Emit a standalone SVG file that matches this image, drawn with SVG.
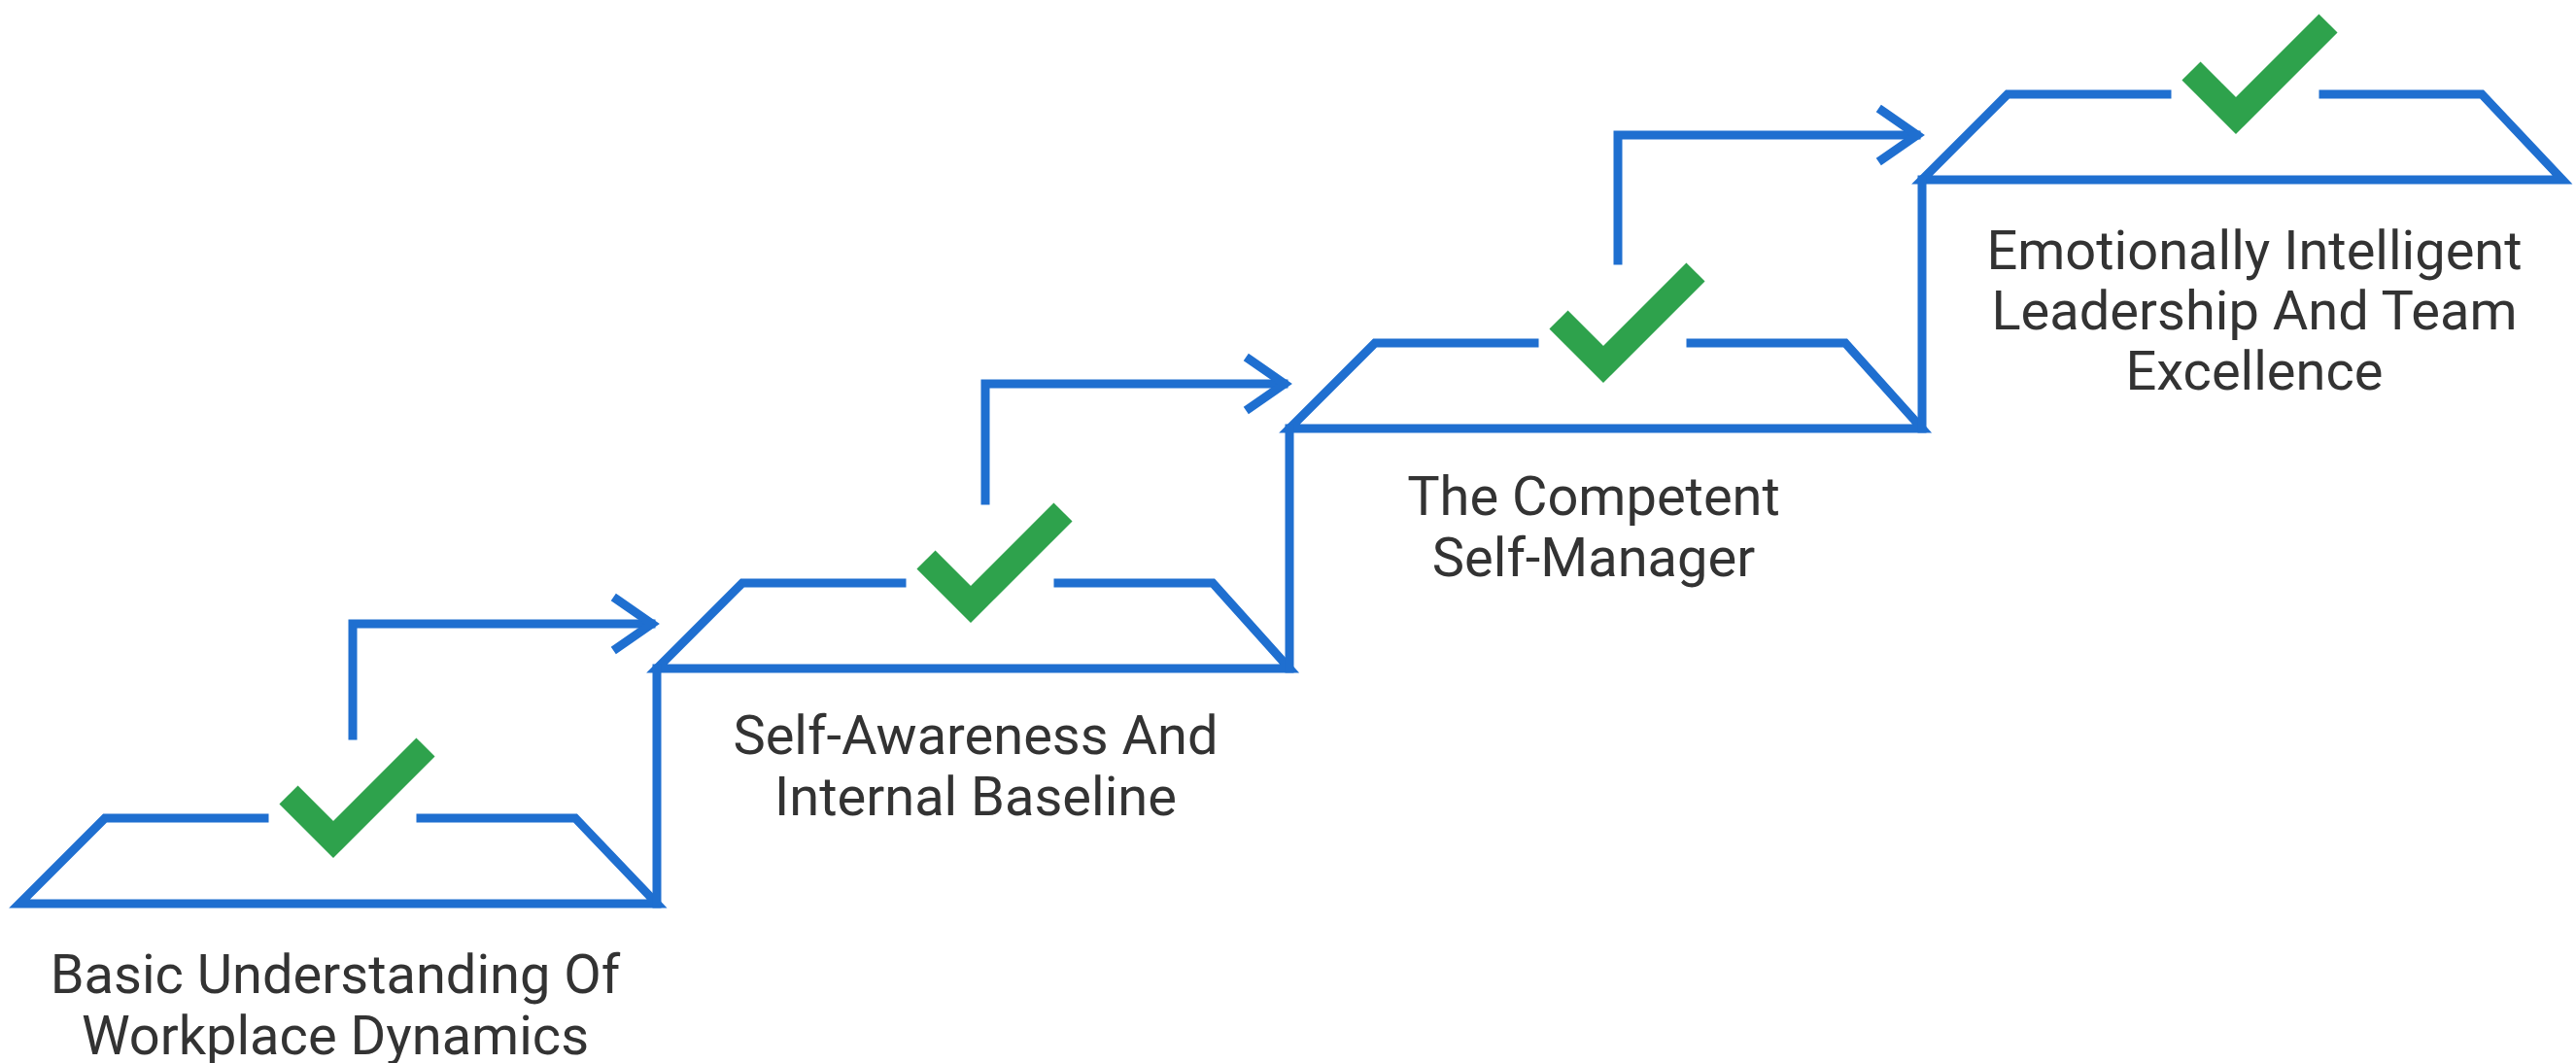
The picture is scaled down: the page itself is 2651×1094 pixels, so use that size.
<svg xmlns="http://www.w3.org/2000/svg" width="2651" height="1094" viewBox="0 0 2651 1094">
<defs>
<style>
.ln{fill:none;stroke:#1f6fd0;stroke-width:9;stroke-linejoin:miter;stroke-linecap:square}
.ck{fill:none;stroke:#2ea24c;stroke-width:27;stroke-linejoin:miter;stroke-linecap:butt}
.tx{font-family:Roboto,"Liberation Sans",sans-serif;font-size:56px;fill:#333;text-anchor:middle}
</style>
</defs>
<rect width="2651" height="1094" fill="#fff"/>
<g id="step1">
<path class="ln" d="M272,842 H108 L20,930 H676 L592,842 H433"/>
<path class="ck" d="M297,818 L343,864 L438,769"/>
<text class="tx" x="345" y="1022">Basic Understanding Of</text>
<text class="tx" x="345" y="1085">Workplace Dynamics</text>
</g>
<g id="step2">
<path class="ln" d="M928,600 H764 L676,688 H1327 L1248,600 H1089"/>
<path class="ck" d="M953,576 L999,622 L1094,527"/>
<text class="tx" x="1004" y="776">Self-Awareness And</text>
<text class="tx" x="1004" y="839">Internal Baseline</text>
</g>
<g id="step3">
<path class="ln" d="M1579,353 H1415 L1327,441 H1978 L1899,353 H1740"/>
<path class="ck" d="M1604,329 L1650,375 L1745,280"/>
<text class="tx" x="1640" y="530">The Competent</text>
<text class="tx" x="1640" y="593">Self-Manager</text>
</g>
<g id="step4">
<path class="ln" d="M2230,97 H2066 L1978,185 H2637 L2554,97 H2391"/>
<path class="ck" d="M2255,73 L2301,119 L2396,24"/>
<text class="tx" x="2320" y="277">Emotionally Intelligent</text>
<text class="tx" x="2320" y="339">Leadership And Team</text>
<text class="tx" x="2320" y="401">Excellence</text>
</g>
<g id="connectors">
<path class="ln" d="M676,930 V688"/>
<path class="ln" d="M1327,688 V441"/>
<path class="ln" d="M1978,441 V185"/>
<path class="ln" d="M363,757 V642 H670"/>
<path class="ln" d="M635,617 L671,642 L635,667"/>
<path class="ln" d="M1014,515 V395 H1321"/>
<path class="ln" d="M1286,370 L1322,395 L1286,420"/>
<path class="ln" d="M1665,268 V139 H1972"/>
<path class="ln" d="M1937,114 L1973,139 L1937,164"/>
</g>
</svg>
